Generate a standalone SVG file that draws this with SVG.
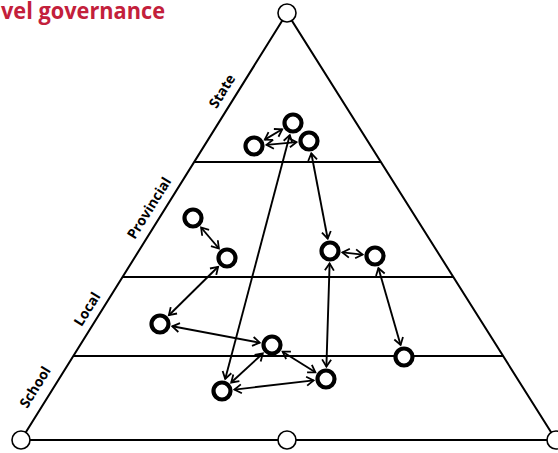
<svg xmlns="http://www.w3.org/2000/svg" width="558" height="453" viewBox="0 0 558 453">
<defs>
<marker id="ah" markerUnits="userSpaceOnUse" markerWidth="12" markerHeight="12" refX="8.5" refY="6" orient="auto-start-reverse">
<path d="M1.5,1.5 L8.5,6 L1.5,10.5" fill="none" stroke="#000" stroke-width="1.8" stroke-linejoin="miter"/>
</marker>
</defs>
<style>
.frame{fill:none;stroke:#000;stroke-width:2}
.corner{fill:#fff;stroke:#000;stroke-width:1.6}
.node{fill:#fff;stroke:#000;stroke-width:4.2}
.conn line{stroke:#000;stroke-width:1.9;marker-start:url(#ah);marker-end:url(#ah)}
.lvl{font-family:"Open Sans","Liberation Sans",sans-serif;font-weight:700;font-size:14px;fill:#000;text-anchor:middle}
.title{font-family:"Open Sans","Liberation Sans",sans-serif;font-weight:700;font-size:23px;fill:#c3203b}
</style>
<rect width="558" height="453" fill="#fff"/>
<text class="title" x="1" y="19" textLength="164" lengthAdjust="spacingAndGlyphs">vel governance</text>
<g id="pyramid">
<path class="frame" d="M287,13 L21,440 L556,440 Z"/>
<line class="frame" x1="194.5" y1="162" x2="381" y2="162"/>
<line class="frame" x1="122.5" y1="277" x2="453" y2="277"/>
<line class="frame" x1="73.3" y1="356" x2="503" y2="356"/>
</g>
<g id="corner-top"><circle class="corner" cx="287" cy="13" r="9"/></g>
<g id="corner-left"><circle class="corner" cx="21" cy="440" r="9"/></g>
<g id="corner-mid"><circle class="corner" cx="287" cy="440" r="9"/></g>
<g id="corner-right"><circle class="corner" cx="556" cy="440" r="9"/></g>
<g id="labels">
<text class="lvl" transform="translate(222,91) rotate(-58)" y="5">State</text>
<text class="lvl" transform="translate(149,208) rotate(-58)" y="5">Provincial</text>
<text class="lvl" transform="translate(87,309) rotate(-58)" y="5">Local</text>
<text class="lvl" transform="translate(35,387) rotate(-58)" y="5">School</text>
</g>
<g id="connectors" class="conn">
<line x1="282.2" y1="129.3" x2="264.8" y2="139.6"/>
<line x1="266.5" y1="144.9" x2="296.5" y2="142.1"/>
<line x1="201.1" y1="227.5" x2="218.9" y2="248.5"/>
<line x1="218.1" y1="266.8" x2="168.9" y2="315.2"/>
<line x1="172.3" y1="326.3" x2="259.7" y2="342.7"/>
<line x1="311.3" y1="153.3" x2="327.7" y2="238.7"/>
<line x1="342.4" y1="252.4" x2="362.6" y2="254.6"/>
<line x1="329.6" y1="263.5" x2="326.4" y2="366.5"/>
<line x1="378.4" y1="268" x2="400.6" y2="345"/>
<line x1="289.8" y1="135.1" x2="225.2" y2="378.9"/>
<line x1="262.8" y1="353.5" x2="231.2" y2="382.5"/>
<line x1="282.6" y1="351.7" x2="315.4" y2="372.3"/>
<line x1="234.4" y1="389.6" x2="313.6" y2="380.4"/>
</g>
<g id="nA"><circle class="node" cx="293" cy="123" r="8.5"/></g>
<g id="nB"><circle class="node" cx="254" cy="146" r="8.5"/></g>
<g id="nC"><circle class="node" cx="309" cy="141" r="8.5"/></g>
<g id="nD"><circle class="node" cx="193" cy="218" r="8.5"/></g>
<g id="nE"><circle class="node" cx="227" cy="258" r="8.5"/></g>
<g id="nF"><circle class="node" cx="330" cy="251" r="8.5"/></g>
<g id="nG"><circle class="node" cx="375" cy="256" r="8.5"/></g>
<g id="nH"><circle class="node" cx="160" cy="324" r="8.5"/></g>
<g id="nI"><circle class="node" cx="272" cy="345" r="8.5"/></g>
<g id="nJ"><circle class="node" cx="404" cy="357" r="8.5"/></g>
<g id="nK"><circle class="node" cx="326" cy="379" r="8.5"/></g>
<g id="nL"><circle class="node" cx="222" cy="391" r="8.5"/></g>
</svg>
